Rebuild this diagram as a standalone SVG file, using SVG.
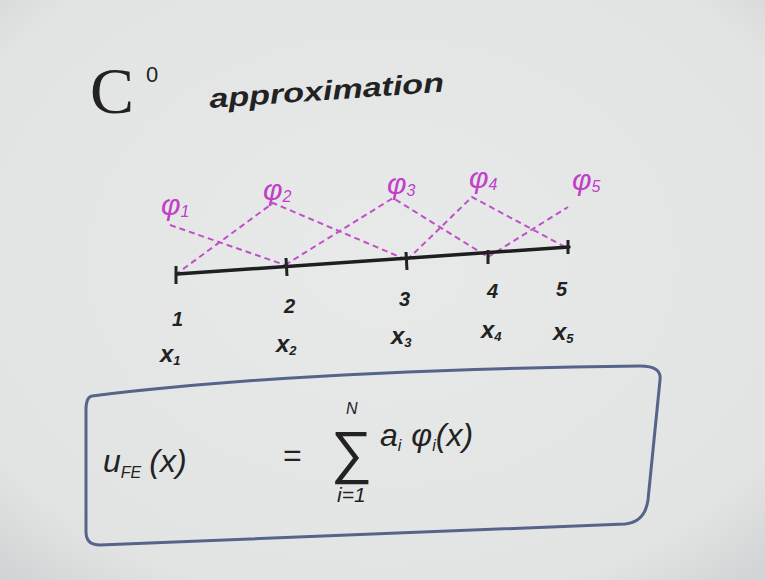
<svg xmlns="http://www.w3.org/2000/svg" width="765" height="580" viewBox="0 0 765 580">
<style>
.ink{font-family:"Liberation Sans","DejaVu Sans",sans-serif;fill:#222;font-style:italic;font-weight:bold}
.thin{font-family:"Liberation Sans","DejaVu Sans",sans-serif;fill:#222;font-style:italic;font-weight:normal}
.up{font-style:normal}
.pk{font-family:"Liberation Sans","DejaVu Sans",sans-serif;fill:#c040c8;font-style:italic}
.dash{stroke:#c050c8;stroke-width:2;stroke-dasharray:6 4;fill:none}
.axis{stroke:#1e1e1e;stroke-width:3.5;fill:none;stroke-linecap:round}
.tick{stroke:#222;stroke-width:3}
</style>
<defs>
<radialGradient id="bg" cx="50%" cy="45%" r="75%">
<stop offset="0" stop-color="#e8eaea"/>
<stop offset="0.8" stop-color="#e2e4e4"/>
<stop offset="1" stop-color="#cfd2d2"/>
</radialGradient>
</defs>
<rect width="765" height="580" fill="url(#bg)"/>
<g id="title">
<text class="thin up" x="90" y="113" font-size="66" style="font-family:'Liberation Serif',serif">C</text>
<text class="thin up" x="146" y="82" font-size="22">0</text>
<text class="ink" x="210" y="108" font-size="27" textLength="235" lengthAdjust="spacingAndGlyphs" transform="rotate(-4 210 108)">approximation</text>
</g>
<g id="connectors">
<polyline class="dash" points="170,225 285,265"/>
<polyline class="dash" points="175,275 273,203 407,260"/>
<polyline class="dash" points="285,265 393,198 488,257"/>
<polyline class="dash" points="407,260 472,197 567,248"/>
<polyline class="dash" points="488,257 568,207"/>
</g>
<g id="axis">
<path class="axis" d="M177,274 Q380,260 569,247"/>
<line class="tick" x1="176" y1="266" x2="176" y2="284"/>
<line class="tick" x1="286" y1="258" x2="287" y2="276"/>
<line class="tick" x1="406" y1="252" x2="407" y2="270"/>
<line class="tick" x1="488" y1="250" x2="488" y2="264"/>
<line class="tick" x1="568" y1="240" x2="568" y2="254"/>
</g>
<g id="phi-labels">
<text class="pk" x="161" y="215" font-size="30">φ<tspan font-size="16" dy="2">1</tspan></text>
<text class="pk" x="263" y="200" font-size="30">φ<tspan font-size="16" dy="2">2</tspan></text>
<text class="pk" x="387" y="194" font-size="30">φ<tspan font-size="16" dy="2">3</tspan></text>
<text class="pk" x="469" y="188" font-size="30">φ<tspan font-size="16" dy="2">4</tspan></text>
<text class="pk" x="572" y="190" font-size="30">φ<tspan font-size="16" dy="2">5</tspan></text>
</g>
<g id="node-labels">
<text class="ink" x="172" y="326" font-size="20">1</text>
<text class="ink" x="284" y="313" font-size="20">2</text>
<text class="ink" x="399" y="306" font-size="20">3</text>
<text class="ink" x="487" y="298" font-size="20">4</text>
<text class="ink" x="556" y="296" font-size="20">5</text>
<text class="ink" x="160" y="362" font-size="24">x<tspan font-size="13" dy="3">1</tspan></text>
<text class="ink" x="276" y="352" font-size="24">x<tspan font-size="13" dy="3">2</tspan></text>
<text class="ink" x="391" y="344" font-size="24">x<tspan font-size="13" dy="3">3</tspan></text>
<text class="ink" x="481" y="338" font-size="24">x<tspan font-size="13" dy="3">4</tspan></text>
<text class="ink" x="553" y="340" font-size="24">x<tspan font-size="13" dy="3">5</tspan></text>
</g>
<g id="formula-box">
<path d="M92,396 Q300,370 640,366 Q662,366 660,380 L648,500 Q645,522 625,524 L100,545 Q86,545 86,532 L86,410 Q86,397 92,396 Z" fill="none" stroke="#56648a" stroke-width="3"/>
<text class="thin" x="103" y="472" font-size="32">u<tspan font-size="16" dy="6">FE</tspan><tspan dy="-6" dx="8">(x)</tspan></text>
<text class="thin up" x="283" y="466" font-size="32">=</text>
<text class="thin up" x="331" y="472" font-size="58">∑</text>
<text class="thin" x="346" y="414" font-size="16">N</text>
<text class="thin" x="337" y="502" font-size="21">i=1</text>
<text class="thin" x="380" y="446" font-size="32">a<tspan font-size="16" dy="5">i</tspan><tspan dx="10" dy="-5">φ</tspan><tspan font-size="16" dy="5">i</tspan><tspan dy="-5">(x)</tspan></text>
</g>
</svg>
